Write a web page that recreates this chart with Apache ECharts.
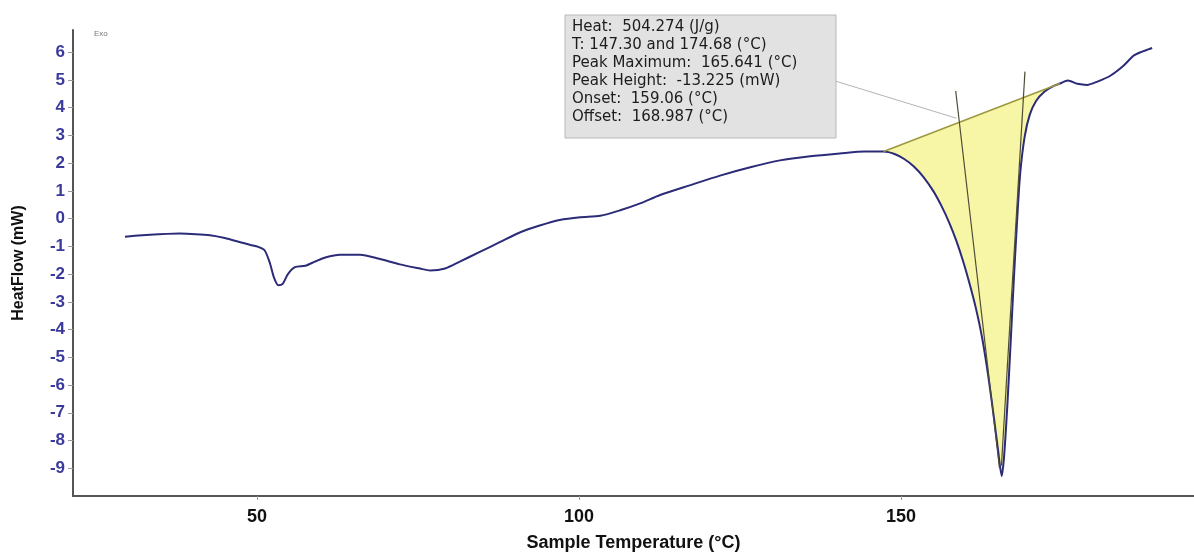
<!DOCTYPE html>
<html>
<head>
<meta charset="utf-8">
<script src="https://cdn.jsdelivr.net/npm/echarts@6/dist/echarts.min.js"></script>
<style>
  html, body { margin: 0; padding: 0; background: #fff; }
  #chart { width: 1194px; height: 557px; }
</style>
</head>
<body>
<div id="chart"></div>
<script>
// DSC trace
var temps = [29.5, 31, 33.4, 36, 38, 40.5, 42.7, 45, 47.4, 49, 50.2, 51.2, 52, 52.6, 53.3, 54, 54.8, 55.9,
  57.5, 59, 60.6, 62.9, 66, 69, 72.2, 75.3, 76.9, 79.2, 81.5, 84.6, 87.7, 90.8, 93.9, 97, 100.2,
  103.3, 106.4, 109.5, 112.6, 117.2, 121.9, 126.6, 131.2, 135.9, 140.5, 144.4, 147.3, 149, 150.5,
  152, 153.5, 155, 156.3, 157.5, 158.6, 159.6, 160.6, 161.6, 162.6, 163.6, 164.5, 165.1, 165.64,
  166.0, 166.5, 167.0, 167.5, 168.0, 168.5, 169.2, 170.0, 171.0, 172.3, 173.5, 174.68, 175.9,
  177.4, 178.9, 180.5, 182.5, 184.5, 186.1, 187.1, 188.4, 189];
var heatFlow = [-0.65, -0.62, -0.58, -0.55, -0.54, -0.56, -0.6, -0.7, -0.85, -0.95, -1.02, -1.15, -1.6, -2.1, -2.4, -2.35, -2.0, -1.75,
  -1.7, -1.55, -1.4, -1.3, -1.3, -1.45, -1.65, -1.8, -1.87, -1.8, -1.55, -1.2, -0.85, -0.5, -0.25, -0.05, 0.05,
  0.1, 0.3, 0.55, 0.85, 1.2, 1.55, 1.85, 2.1, 2.25, 2.35, 2.42, 2.42, 2.33, 2.15,
  1.88, 1.5, 1.0, 0.45, -0.15, -0.8, -1.5, -2.3, -3.2, -4.3, -5.75, -7.3, -8.4, -9.28,
  -8.6, -6.8, -4.6, -2.3, -0.2, 1.6, 2.95, 3.75, 4.25, 4.58, 4.76, 4.87, 4.98,
  4.86, 4.82, 4.94, 5.15, 5.5, 5.87, 5.99, 6.1, 6.15];

// integration baseline and the two tangents
var baselineT = [147.3, 174.68];
var baselineHF = [2.42, 4.87];
var onsetT = [158.5, 165.3];
var onsetHF = [4.6, -9.0];
var offsetT = [169.25, 165.6];
var offsetHF = [5.3, -8.9];
var leaderT = [139.8, 158.6];
var leaderHF = [4.96, 3.62];

var resultLines = [
  'Heat:  504.274 (J/g)',
  'T: 147.30 and 174.68 (°C)',
  'Peak Maximum:  165.641 (°C)',
  'Peak Height:  -13.225 (mW)',
  'Onset:  159.06 (°C)',
  'Offset:  168.987 (°C)'
];

function pairs(xs, ys) {
  var out = [];
  for (var i = 0; i < xs.length; i++) out.push([xs[i], ys[i]]);
  return out;
}

var curve = pairs(temps, heatFlow);
var peakArea = curve.filter(function (p) {
  return p[0] >= baselineT[0] && p[0] <= baselineT[1];
});

var myChart = echarts.init(document.getElementById('chart'));
var font = '"Liberation Sans", Arial, sans-serif';

var option = {
  animation: false,
  backgroundColor: '#fff',
  grid: { left: 73, right: 0, top: 30, bottom: 57, containLabel: false },
  xAxis: {
    type: 'value',
    min: 21.43,
    max: 195.5,
    splitNumber: 3,
    name: 'Sample Temperature (°C)',
    nameLocation: 'middle',
    nameGap: 38,
    nameTextStyle: { fontFamily: font, fontWeight: 'bold', fontSize: 18, color: '#111' },
    splitLine: { show: false },
    axisLine: { show: true, onZero: false, lineStyle: { color: '#555', width: 2 } },
    axisTick: { show: true, length: 4, lineStyle: { color: '#999' } },
    axisLabel: {
      showMinLabel: false, showMaxLabel: false,
      fontFamily: font, fontWeight: 'bold', fontSize: 18, color: '#111', margin: 12
    }
  },
  yAxis: {
    type: 'value',
    min: -10,
    max: 6.8,
    interval: 1,
    name: 'HeatFlow (mW)',
    nameLocation: 'middle',
    nameGap: 46,
    nameTextStyle: { fontFamily: font, fontWeight: 'bold', fontSize: 16, color: '#111' },
    splitLine: { show: false },
    axisLine: { show: true, lineStyle: { color: '#555', width: 2 } },
    axisTick: { show: true, length: 5, lineStyle: { color: '#999' } },
    axisLabel: {
      showMinLabel: false, showMaxLabel: false,
      fontFamily: font, fontWeight: 'bold', fontSize: 17, color: '#3a3a9c', margin: 8
    }
  },
  series: [
    {
      type: 'custom',
      z: 1,
      data: [peakArea[0]],
      renderItem: function (params, api) {
        var pts = peakArea.map(function (p) { return api.coord(p); });
        return {
          type: 'polygon',
          shape: { points: pts },
          style: { fill: '#f7f5a6', stroke: null }
        };
      }
    },
    {
      type: 'line',
      z: 3,
      data: curve,
      smooth: 0.25,
      showSymbol: false,
      lineStyle: { color: '#2b2b78', width: 2 }
    },
    {
      type: 'line', z: 4, data: pairs(baselineT, baselineHF), showSymbol: false,
      lineStyle: { color: '#9c9840', width: 1.5 }
    },
    {
      type: 'line', z: 4, data: pairs(onsetT, onsetHF), showSymbol: false,
      lineStyle: { color: '#4e4d38', width: 1.2 }
    },
    {
      type: 'line', z: 4, data: pairs(offsetT, offsetHF), showSymbol: false,
      lineStyle: { color: '#4e4d38', width: 1.2 }
    },
    {
      type: 'line', z: 2, data: pairs(leaderT, leaderHF), showSymbol: false,
      lineStyle: { color: '#b4b4b4', width: 1 }
    }
  ],
  graphic: [
    {
      type: 'rect', z: 10,
      shape: { x: 565, y: 15, width: 271, height: 123 },
      style: { fill: '#e2e2e2', stroke: '#b8b8b8', lineWidth: 1 }
    },
    {
      type: 'text', z: 11, x: 572, y: 18,
      style: {
        text: resultLines.join('\n'),
        font: '15px "DejaVu Sans", sans-serif',
        fill: '#1c1c1c', lineHeight: 18, verticalAlign: 'top'
      }
    },
    {
      type: 'text', z: 11, x: 94, y: 30,
      style: { text: 'Exo', font: '8px "Liberation Sans", sans-serif', fill: '#777' }
    }
  ]
};

if (option && typeof option === 'object') {
  myChart.setOption(option, true);
}
</script>
</body>
</html>
